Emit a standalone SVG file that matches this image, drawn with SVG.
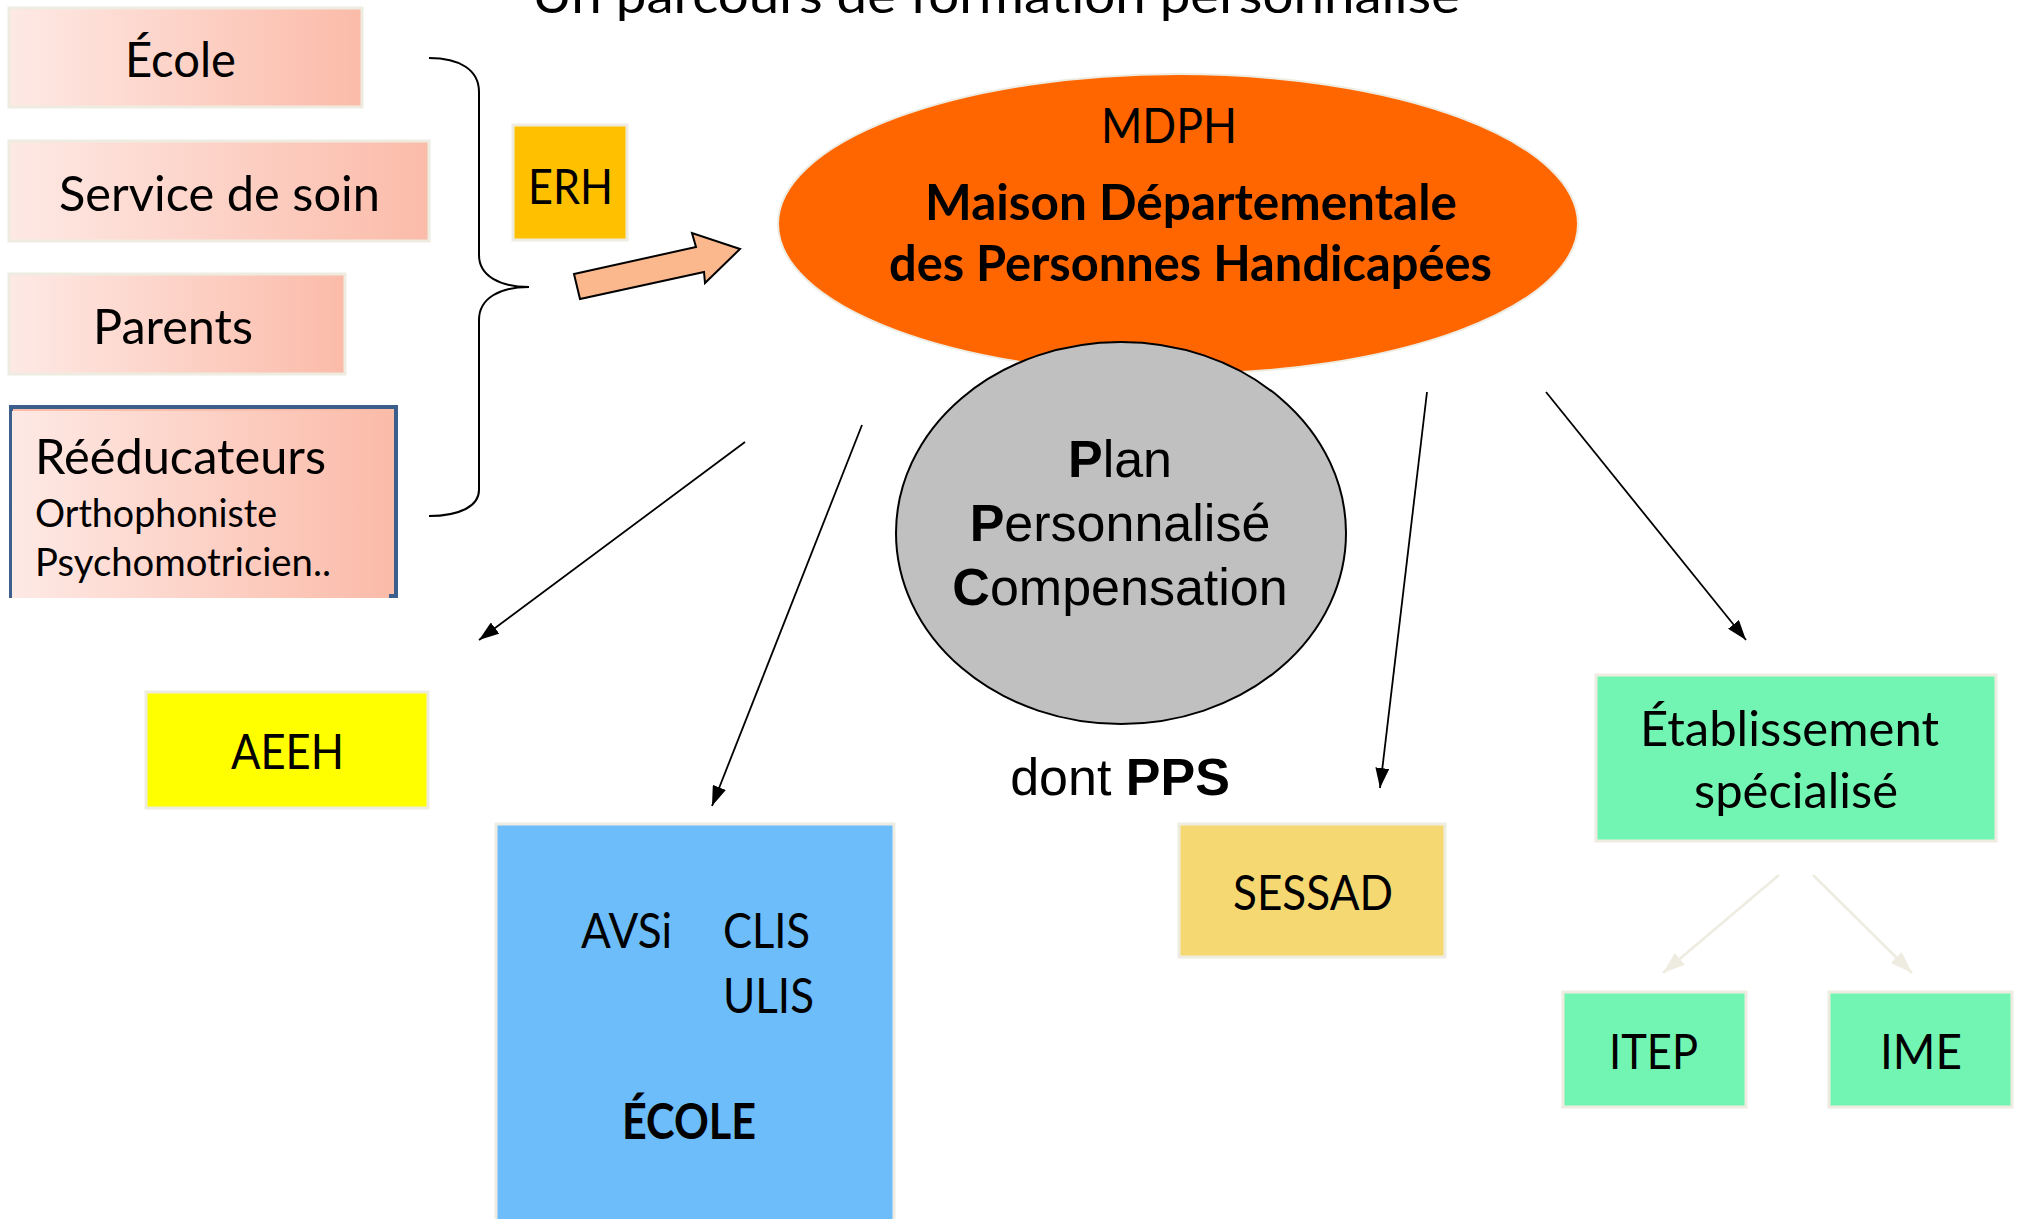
<svg xmlns="http://www.w3.org/2000/svg" width="2020" height="1219" viewBox="0 0 2020 1219">
<defs>
<style>
.c{font-family:Lato,"Liberation Sans",sans-serif;font-size:48px;fill:#000}
.cb{font-family:Lato,"Liberation Sans",sans-serif;font-size:50px;font-weight:bold;fill:#000}
.a{font-family:"Liberation Sans",Arial,sans-serif;font-size:52px;fill:#000}
.box{stroke:#EEECE1;stroke-width:3}
.conn{stroke:#000;stroke-width:1.8;fill:none}
.connl{stroke:#EEECE1;stroke-width:2.5;fill:none}
</style>
<linearGradient id="pink" x1="0" y1="0" x2="1" y2="0">
<stop offset="0" stop-color="#FEE9E5"/>
<stop offset="1" stop-color="#FBBBA9"/>
</linearGradient>
<marker id="ah" viewBox="0 0 20 14" refX="20" refY="7" markerWidth="20" markerHeight="14" markerUnits="userSpaceOnUse" orient="auto">
<path d="M0,0 L20,7 L0,14 z" fill="#000"/>
</marker>
<marker id="ahl" viewBox="0 0 20 14" refX="20" refY="7" markerWidth="22" markerHeight="16" markerUnits="userSpaceOnUse" orient="auto">
<path d="M0,0 L20,7 L0,14 z" fill="#EEECE1"/>
</marker>
</defs>
<rect width="2020" height="1219" fill="#fff"/>

<text id="title" class="c" x="532" y="13" textLength="928" lengthAdjust="spacingAndGlyphs">Un parcours de formation personnalisé</text>

<g id="ecole-src">
<rect class="box" x="9" y="8" width="353" height="99" fill="url(#pink)"/>
<text class="c" x="125" y="77" textLength="111" lengthAdjust="spacingAndGlyphs">École</text>
</g>
<g id="service-soin">
<rect class="box" x="9" y="141" width="420" height="100" fill="url(#pink)"/>
<text class="c" x="59" y="211" textLength="321" lengthAdjust="spacingAndGlyphs">Service de soin</text>
</g>
<g id="parents">
<rect class="box" x="9" y="274" width="336" height="100" fill="url(#pink)"/>
<text class="c" x="93" y="344" textLength="160" lengthAdjust="spacingAndGlyphs">Parents</text>
</g>
<g id="reeducateurs">
<rect x="11" y="407" width="385" height="189" fill="#FBBCA8" stroke="#3B5E8C" stroke-width="4"/>
<rect x="12" y="411" width="377" height="187" fill="url(#pink)"/>
<text class="c" x="35" y="474" textLength="291" lengthAdjust="spacingAndGlyphs">Rééducateurs</text>
<text class="c" x="35" y="527" style="font-size:38px" textLength="242" lengthAdjust="spacingAndGlyphs">Orthophoniste</text>
<text class="c" x="35" y="576" style="font-size:38px" textLength="296" lengthAdjust="spacingAndGlyphs">Psychomotricien..</text>
</g>

<g id="brace">
<path d="M429,58 C460,58 479,70 479,92 L479,255 C479,276 500,287 529,287 C500,287 479,298 479,320 L479,490 C479,506 460,516 429,516" fill="none" stroke="#000" stroke-width="2"/>
</g>

<g id="erh">
<rect class="box" x="513" y="125" width="114" height="115" fill="#FFC000"/>
<text class="c" x="528" y="204" textLength="85" lengthAdjust="spacingAndGlyphs">ERH</text>
</g>

<g id="block-arrow">
<polygon points="574,274 696,247 692,233 740,249 705,283 704,272 580,299" fill="#FBB88C" stroke="#000" stroke-width="2" stroke-linejoin="miter"/>
</g>

<g id="mdph">
<ellipse cx="1178" cy="224" rx="400" ry="150" fill="#FF6600" stroke="#EEECE1" stroke-width="2"/>
<text class="c" x="1101" y="143" textLength="136" lengthAdjust="spacingAndGlyphs">MDPH</text>
<text class="cb" x="925" y="220" textLength="532" lengthAdjust="spacingAndGlyphs">Maison Départementale</text>
<text class="cb" x="889" y="281" textLength="603" lengthAdjust="spacingAndGlyphs">des Personnes Handicapées</text>
</g>

<g id="ppc">
<ellipse cx="1121" cy="533" rx="225" ry="191" fill="#C0C0C0" stroke="#000" stroke-width="2"/>
<text class="a" x="1120" y="477" text-anchor="middle"><tspan font-weight="bold">P</tspan>lan</text>
<text class="a" x="1120" y="541" text-anchor="middle"><tspan font-weight="bold">P</tspan>ersonnalisé</text>
<text class="a" x="1120" y="605" text-anchor="middle"><tspan font-weight="bold">C</tspan>ompensation</text>
</g>
<g id="pps">
<text class="a" x="1120" y="795" text-anchor="middle">dont <tspan font-weight="bold">PPS</tspan></text>
</g>

<g id="aeeh">
<rect class="box" x="146" y="692" width="282" height="116" fill="#FFFF00"/>
<text class="c" x="231" y="769" textLength="113" lengthAdjust="spacingAndGlyphs">AEEH</text>
</g>

<g id="ecole">
<rect class="box" x="496" y="824" width="398" height="410" fill="#6CBDFA"/>
<text class="c" x="581" y="948" textLength="91" lengthAdjust="spacingAndGlyphs">AVSi</text>
<text class="c" x="723" y="948" textLength="87" lengthAdjust="spacingAndGlyphs">CLIS</text>
<text class="c" x="723" y="1013" textLength="91" lengthAdjust="spacingAndGlyphs">ULIS</text>
<text class="cb" x="622" y="1139" textLength="134" lengthAdjust="spacingAndGlyphs">ÉCOLE</text>
</g>

<g id="sessad">
<rect class="box" x="1179" y="824" width="266" height="133" fill="#F5D872"/>
<text class="c" x="1233" y="910" textLength="160" lengthAdjust="spacingAndGlyphs">SESSAD</text>
</g>

<g id="etablissement">
<rect class="box" x="1596" y="675" width="400" height="166" fill="#72F5B2"/>
<text class="c" x="1640" y="746" textLength="299" lengthAdjust="spacingAndGlyphs">Établissement</text>
<text class="c" x="1694" y="808" textLength="204" lengthAdjust="spacingAndGlyphs">spécialisé</text>
</g>

<g id="itep">
<rect class="box" x="1563" y="992" width="183" height="115" fill="#72F5B2"/>
<text class="c" x="1609" y="1069" textLength="89" lengthAdjust="spacingAndGlyphs">ITEP</text>
</g>

<g id="ime">
<rect class="box" x="1829" y="992" width="183" height="115" fill="#72F5B2"/>
<text class="c" x="1880" y="1069" textLength="82" lengthAdjust="spacingAndGlyphs">IME</text>
</g>

<g id="connectors">
<line class="conn" x1="745" y1="442" x2="479" y2="640" marker-end="url(#ah)"/>
<line class="conn" x1="862" y1="425" x2="712" y2="806" marker-end="url(#ah)"/>
<line class="conn" x1="1427" y1="392" x2="1380" y2="788" marker-end="url(#ah)"/>
<line class="conn" x1="1546" y1="392" x2="1746" y2="640" marker-end="url(#ah)"/>
<line class="connl" x1="1779" y1="875" x2="1663" y2="973" marker-end="url(#ahl)"/>
<line class="connl" x1="1813" y1="875" x2="1912" y2="973" marker-end="url(#ahl)"/>
</g>
</svg>
